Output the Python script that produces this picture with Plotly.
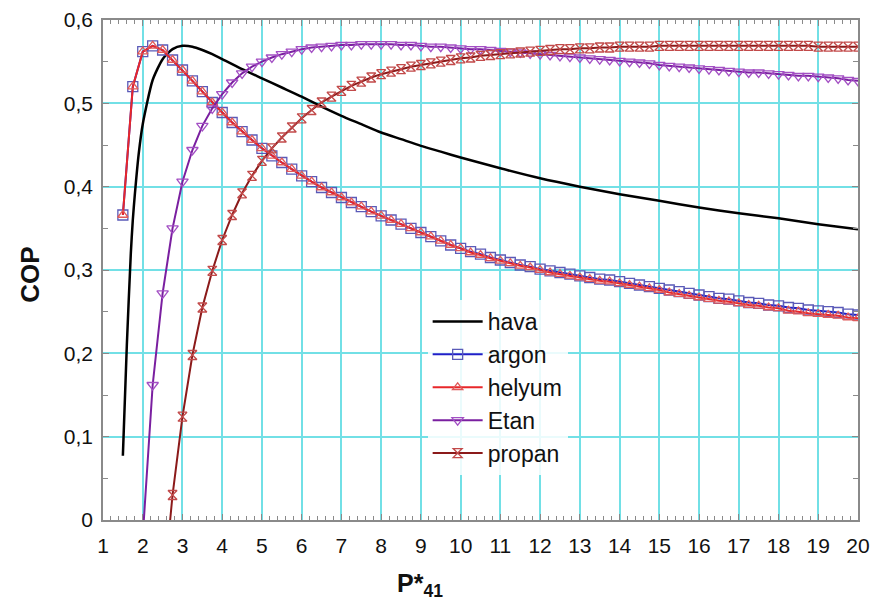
import plotly.graph_objects as go

# Pressure-ratio sampling grid shared by the marked series
P_GRID = [1.5, 1.75, 2.0, 2.25, 2.5, 2.75, 3.0, 3.25, 3.5, 3.75, 4.0, 4.25, 4.5, 4.75,
          5.0, 5.25, 5.5, 5.75, 6.0, 6.25, 6.5, 6.75, 7.0, 7.25, 7.5, 7.75, 8.0, 8.25,
          8.5, 8.75, 9.0, 9.25, 9.5, 9.75, 10.0, 10.25, 10.5, 10.75, 11.0, 11.25, 11.5,
          11.75, 12.0, 12.25, 12.5, 12.75, 13.0, 13.25, 13.5, 13.75, 14.0, 14.25, 14.5,
          14.75, 15.0, 15.25, 15.5, 15.75, 16.0, 16.25, 16.5, 16.75, 17.0, 17.25, 17.5,
          17.75, 18.0, 18.25, 18.5, 18.75, 19.0, 19.25, 19.5, 19.75, 20.0]

# hava (air) - plain curve
hava_p = [1.5, 1.6, 1.7, 1.75, 1.8, 1.9, 2.0, 2.25, 2.5, 2.75, 3.0, 3.25, 3.5, 3.75, 4.0,
          4.5, 5.0, 5.5, 6.0, 6.5, 7.0, 7.5, 8.0, 8.5, 9.0, 9.5, 10.0, 11.0, 12.0, 13.0,
          14.0, 15.0, 16.0, 17.0, 18.0, 19.0, 20.0]
hava_cop = [0.077, 0.21, 0.32, 0.36, 0.39, 0.44, 0.475, 0.528, 0.553, 0.565, 0.569, 0.568,
            0.564, 0.559, 0.553, 0.541, 0.530, 0.519, 0.508, 0.496, 0.485, 0.475, 0.465,
            0.457, 0.449, 0.442, 0.435, 0.422, 0.410, 0.400, 0.391, 0.383, 0.375, 0.368,
            0.362, 0.355, 0.349]

# argon, P* = 1.5 ... 20
argon_cop = [0.366, 0.520, 0.562, 0.569, 0.564, 0.552, 0.540, 0.527, 0.514, 0.501,
             0.489, 0.477, 0.466, 0.456, 0.446, 0.437, 0.429, 0.421, 0.413, 0.406,
             0.399, 0.393, 0.387, 0.381, 0.376, 0.370, 0.365, 0.360, 0.355, 0.350,
             0.345, 0.340, 0.335, 0.330, 0.326, 0.322, 0.319, 0.315, 0.312, 0.309,
             0.306, 0.304, 0.301, 0.299, 0.297, 0.295, 0.293, 0.291, 0.289, 0.288,
             0.286, 0.284, 0.282, 0.280, 0.278, 0.276, 0.274, 0.272, 0.270, 0.268,
             0.266, 0.265, 0.263, 0.261, 0.260, 0.258, 0.257, 0.255, 0.254, 0.252,
             0.251, 0.250, 0.249, 0.247, 0.246]

# helyum (helium), P* = 1.5 ... 20
helyum_cop = [0.366, 0.520, 0.562, 0.569, 0.564, 0.552, 0.540, 0.527, 0.514, 0.501,
              0.489, 0.477, 0.466, 0.456, 0.446, 0.437, 0.429, 0.421, 0.413, 0.406,
              0.399, 0.393, 0.387, 0.381, 0.376, 0.370, 0.365, 0.360, 0.355, 0.350,
              0.345, 0.340, 0.335, 0.330, 0.326, 0.321, 0.318, 0.314, 0.311, 0.308,
              0.305, 0.303, 0.300, 0.297, 0.295, 0.293, 0.291, 0.289, 0.287, 0.286,
              0.284, 0.282, 0.280, 0.278, 0.276, 0.273, 0.271, 0.269, 0.267, 0.265,
              0.263, 0.262, 0.260, 0.258, 0.257, 0.255, 0.254, 0.251, 0.250, 0.248,
              0.247, 0.246, 0.245, 0.243, 0.242]

# Etan (ethane), P* = 2.0 ... 20
etan_cop = [-0.020, 0.162, 0.272, 0.350, 0.406, 0.444, 0.473, 0.494, 0.511, 0.525,
            0.536, 0.544, 0.550, 0.555, 0.559, 0.562, 0.565, 0.567, 0.568, 0.569,
            0.570, 0.570, 0.571, 0.571, 0.571, 0.571, 0.570, 0.570, 0.569, 0.568,
            0.568, 0.567, 0.566, 0.565, 0.565, 0.564, 0.563, 0.562, 0.561, 0.560,
            0.559, 0.558, 0.557, 0.556, 0.555, 0.554, 0.553, 0.552, 0.551, 0.550,
            0.549, 0.548, 0.546, 0.545, 0.544, 0.543, 0.542, 0.541, 0.540, 0.539,
            0.538, 0.537, 0.537, 0.536, 0.535, 0.534, 0.533, 0.533, 0.532, 0.531,
            0.530, 0.528, 0.527]

# propan (propane), P* = 2.5 ... 20
propan_cop = [-0.095, 0.030, 0.124, 0.198, 0.255, 0.299, 0.336, 0.366, 0.392, 0.413,
              0.431, 0.446, 0.459, 0.471, 0.482, 0.492, 0.501, 0.508, 0.515, 0.521,
              0.526, 0.531, 0.535, 0.538, 0.541, 0.544, 0.546, 0.548, 0.550, 0.552,
              0.554, 0.555, 0.557, 0.558, 0.559, 0.560, 0.561, 0.562, 0.563, 0.564,
              0.565, 0.565, 0.566, 0.566, 0.567, 0.567, 0.568, 0.568, 0.568, 0.568,
              0.569, 0.569, 0.569, 0.569, 0.569, 0.569, 0.569, 0.569, 0.569, 0.569,
              0.569, 0.569, 0.569, 0.569, 0.569, 0.569, 0.568, 0.568, 0.568, 0.568,
              0.568]

x_ticks = list(range(1, 21))
y_ticks = [0, 0.1, 0.2, 0.3, 0.4, 0.5, 0.6]
y_tick_text = ["0", "0,1", "0,2", "0,3", "0,4", "0,5", "0,6"]

FONT = "Liberation Sans, Arial, sans-serif"
GRID = "#72e0e6"
FRAME = "#8a8a8a"


def grid_from(start):
    i = P_GRID.index(start)
    return P_GRID[i:]


fig = go.Figure()

fig.add_trace(go.Scatter(
    x=hava_p, y=hava_cop, name="hava", mode="lines",
    line=dict(color="black", width=2.5, shape="spline", smoothing=0.6),
))
fig.add_trace(go.Scatter(
    x=grid_from(1.5), y=argon_cop, name="argon", mode="lines+markers",
    line=dict(color="#1f1fc8", width=2),
    marker=dict(symbol="square-open", size=10, color="#5a5ab8", line=dict(width=1.3)),
))
fig.add_trace(go.Scatter(
    x=grid_from(1.5), y=helyum_cop, name="helyum", mode="lines+markers",
    line=dict(color="#e8272a", width=2),
    marker=dict(symbol="triangle-up-open", size=9, color="#e05a5a", line=dict(width=1.3)),
))
fig.add_trace(go.Scatter(
    x=grid_from(2.0), y=etan_cop, name="Etan", mode="lines+markers",
    line=dict(color="#7a1fa0", width=2),
    marker=dict(symbol="triangle-down-open", size=10, color="#a34fc4", line=dict(width=1.3)),
))
fig.add_trace(go.Scatter(
    x=grid_from(2.5), y=propan_cop, name="propan", mode="lines+markers",
    line=dict(color="#8b1a1a", width=2),
    marker=dict(symbol="hourglass-open", size=9, color="#c24a4a", line=dict(width=1.3)),
))

axis_common = dict(
    showline=True, linecolor=FRAME, linewidth=1.5, mirror="ticks",
    ticks="inside", ticklen=6, tickcolor=FRAME, tickwidth=1,
    showgrid=True, gridcolor=GRID, gridwidth=2, zeroline=False,
    tickfont=dict(family=FONT, size=21, color="#111111"),
    automargin=False,
)

fig.update_xaxes(
    range=[1, 20], tickvals=x_ticks, ticktext=[str(v) for v in x_ticks],
    minor=dict(ticks="inside", dtick=0.2, ticklen=4, tickcolor=FRAME, showgrid=False),
    ticklabelstandoff=6,
    **axis_common,
)
fig.update_yaxes(
    range=[0, 0.6], tickvals=y_ticks, ticktext=y_tick_text,
    minor=dict(ticks="inside", dtick=0.05, ticklen=5, tickcolor=FRAME, showgrid=False),
    ticklabelstandoff=4,
    **axis_common,
)

fig.add_annotation(
    text="<b>COP</b>", xref="paper", yref="paper", x=-0.097, y=0.49,
    xanchor="center", yanchor="middle",
    textangle=-90, showarrow=False, font=dict(family=FONT, size=26, color="#111111"),
)
fig.add_annotation(
    text="<b>P*<sub>41</sub></b>", xref="paper", yref="paper", x=0.42, y=-0.13,
    xanchor="center", yanchor="middle",
    showarrow=False, font=dict(family=FONT, size=25, color="#111111"),
)

fig.update_layout(
    width=872, height=608,
    margin=dict(l=103, r=14, t=20, b=88),
    paper_bgcolor="white", plot_bgcolor="white",
    showlegend=True,
    legend=dict(
        x=0.43, y=0.44, xanchor="left", yanchor="top",
        bgcolor="rgba(255,255,255,0.85)", borderwidth=0,
        font=dict(family=FONT, size=23, color="#111111"),
        itemwidth=50, tracegroupgap=0,
    ),
)

fig.write_html("out.html")
